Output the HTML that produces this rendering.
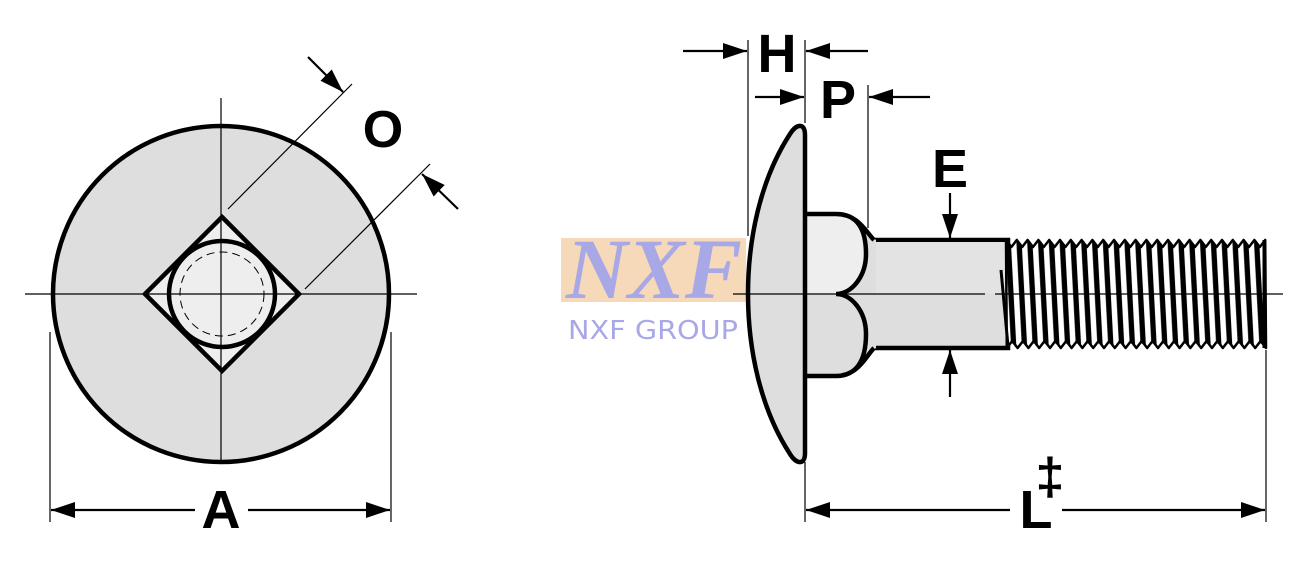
<!DOCTYPE html>
<html><head><meta charset="utf-8"><style>html,body{margin:0;padding:0;background:#fff}svg{display:block}</style></head>
<body>
<svg width="1307" height="582" viewBox="0 0 1307 582" xmlns="http://www.w3.org/2000/svg" font-family="Liberation Sans, sans-serif" font-weight="bold">
<defs>
<pattern id="thr" width="10.8" height="200" patternUnits="userSpaceOnUse" x="1006" y="0" patternTransform="skewX(3)">
<rect x="0" y="0" width="10.8" height="200" fill="#000"/>
<rect x="3" y="0" width="5.5" height="200" fill="#fff"/>
</pattern>
<marker id="ah" viewBox="0 0 24 16" refX="24" refY="8" markerWidth="24" markerHeight="16" markerUnits="userSpaceOnUse" orient="auto"><path d="M0,0 L24,8 L0,16 z"/></marker>
</defs>

<circle cx="221" cy="294" r="168" fill="#dedede" stroke="#000" stroke-width="4.5"/>
<polygon points="222,217 299,294 222,371 145,294" fill="#eeeeee" stroke="#000" stroke-width="4.5"/>
<circle cx="222" cy="294" r="53" fill="#eeeeee" stroke="#000" stroke-width="4.5"/>
<circle cx="222" cy="294" r="42" fill="none" stroke="#000" stroke-width="1" stroke-dasharray="8,5"/>
<line x1="25" y1="294" x2="417" y2="294" stroke="#000" stroke-width="1.2"/>
<line x1="221" y1="98" x2="221" y2="462" stroke="#000" stroke-width="1.2"/>
<line x1="228" y1="209" x2="352" y2="84" stroke="#000" stroke-width="1.2"/>
<line x1="305" y1="289" x2="430" y2="164" stroke="#000" stroke-width="1.2"/>
<line x1="308" y1="57" x2="343" y2="92" stroke="#000" stroke-width="2.2" marker-end="url(#ah)"/>
<line x1="458" y1="209" x2="422" y2="174" stroke="#000" stroke-width="2.2" marker-end="url(#ah)"/>
<text x="383" y="147" font-size="52" text-anchor="middle">O</text>
<line x1="50" y1="332" x2="50" y2="522" stroke="#000" stroke-width="1.2"/>
<line x1="391" y1="332" x2="391" y2="522" stroke="#000" stroke-width="1.2"/>
<line x1="195" y1="510" x2="51" y2="510" stroke="#000" stroke-width="2.2" marker-end="url(#ah)"/>
<line x1="248" y1="510" x2="390" y2="510" stroke="#000" stroke-width="2.2" marker-end="url(#ah)"/>
<text x="221" y="528" font-size="54" text-anchor="middle">A</text>

<rect x="561" y="238" width="185" height="64" fill="#f6d9b8"/>
<text x="566" y="298" font-family="Liberation Serif, serif" font-style="italic" font-weight="bold" font-size="86" fill="#a8a8e6" textLength="176" lengthAdjust="spacingAndGlyphs">NXF</text>
<text x="568" y="339" font-family="DejaVu Sans, sans-serif" font-weight="normal" font-size="26" fill="#a8a8e6" textLength="170" lengthAdjust="spacingAndGlyphs">NXF GROUP</text>

<rect x="860" y="240" width="148" height="108" fill="#dedede" stroke="#000" stroke-width="4.5"/>
<rect x="862" y="242" width="144" height="52" fill="#e3e3e3"/>
<path d="M805,214 L836,214 C858,214 866,232 876,240 L876,348 C866,356 858,376 836,376 L805,376 Z" fill="#dedede" stroke="none"/>
<path d="M805,214 L836,214 C858,214 866,230 866,254 C866,276 852,294 836,294 L805,294 Z" fill="#eeeeee"/>
<path d="M805,214 L836,214 C858,214 866,232 874,240 M836,294 C852,294 866,276 866,254 C866,230 858,214 836,214 M836,294 C852,294 866,312 866,334 C866,358 858,376 836,376 L805,376 M874,348 C866,356 858,376 836,376" fill="none" stroke="#000" stroke-width="4.5"/>
<path d="M805,135 C805,122 796,124 790,134 C760,180 748,240 748,294 C748,348 760,408 790,454 C796,464 805,466 805,453 Z" fill="#dedede" stroke="#000" stroke-width="4.5" stroke-linejoin="round"/>
<path d="M1006,240 l5.4,7 l5.4,-7 l5.4,7 l5.4,-7 l5.4,7 l5.4,-7 l5.4,7 l5.4,-7 l5.4,7 l5.4,-7 l5.4,7 l5.4,-7 l5.4,7 l5.4,-7 l5.4,7 l5.4,-7 l5.4,7 l5.4,-7 l5.4,7 l5.4,-7 l5.4,7 l5.4,-7 l5.4,7 l5.4,-7 l5.4,7 l5.4,-7 l5.4,7 l5.4,-7 l5.4,7 l5.4,-7 l5.4,7 l5.4,-7 l5.4,7 l5.4,-7 l5.4,7 l5.4,-7 l5.4,7 l5.4,-7 l5.4,7 l5.4,-7 l5.4,7 l5.4,-7 l5.4,7 l5.4,-7 l5.4,7 l5.4,-7 l5.4,7 l5.4,-7 L1266,348 l-5.4,-7 l-5.4,7 l-5.4,-7 l-5.4,7 l-5.4,-7 l-5.4,7 l-5.4,-7 l-5.4,7 l-5.4,-7 l-5.4,7 l-5.4,-7 l-5.4,7 l-5.4,-7 l-5.4,7 l-5.4,-7 l-5.4,7 l-5.4,-7 l-5.4,7 l-5.4,-7 l-5.4,7 l-5.4,-7 l-5.4,7 l-5.4,-7 l-5.4,7 l-5.4,-7 l-5.4,7 l-5.4,-7 l-5.4,7 l-5.4,-7 l-5.4,7 l-5.4,-7 l-5.4,7 l-5.4,-7 l-5.4,7 l-5.4,-7 l-5.4,7 l-5.4,-7 l-5.4,7 l-5.4,-7 l-5.4,7 l-5.4,-7 l-5.4,7 l-5.4,-7 l-5.4,7 l-5.4,-7 l-5.4,7 l-5.4,-7 l-5.4,7 Z" fill="url(#thr)" stroke="#000" stroke-width="2.5" stroke-linejoin="round"/>
<line x1="1001" y1="270" x2="1008" y2="346" stroke="#000" stroke-width="3"/>
<line x1="1264" y1="240" x2="1264" y2="348" stroke="#000" stroke-width="3"/>
<line x1="733" y1="294" x2="985" y2="294" stroke="#000" stroke-width="1.2"/>
<line x1="995" y1="294" x2="1283" y2="294" stroke="#000" stroke-width="1.2"/>

<line x1="748" y1="40" x2="748" y2="236" stroke="#000" stroke-width="1.2"/>
<line x1="805" y1="40" x2="805" y2="123" stroke="#000" stroke-width="1.2"/>
<line x1="868" y1="85" x2="868" y2="228" stroke="#000" stroke-width="1.2"/>
<line x1="683" y1="51" x2="747" y2="51" stroke="#000" stroke-width="2.2" marker-end="url(#ah)"/>
<line x1="868" y1="51" x2="806" y2="51" stroke="#000" stroke-width="2.2" marker-end="url(#ah)"/>
<text x="777" y="72" font-size="54" text-anchor="middle">H</text>
<line x1="755" y1="97" x2="804" y2="97" stroke="#000" stroke-width="2.2" marker-end="url(#ah)"/>
<line x1="930" y1="97" x2="869" y2="97" stroke="#000" stroke-width="2.2" marker-end="url(#ah)"/>
<text x="838" y="118" font-size="54" text-anchor="middle">P</text>
<text x="950" y="187" font-size="54" text-anchor="middle">E</text>
<line x1="950" y1="193" x2="950" y2="238" stroke="#000" stroke-width="2.2" marker-end="url(#ah)"/>
<line x1="950" y1="397" x2="950" y2="350" stroke="#000" stroke-width="2.2" marker-end="url(#ah)"/>
<line x1="805" y1="462" x2="805" y2="522" stroke="#000" stroke-width="1.2"/>
<line x1="1266" y1="350" x2="1266" y2="522" stroke="#000" stroke-width="1.2"/>
<line x1="1010" y1="510" x2="806" y2="510" stroke="#000" stroke-width="2.2" marker-end="url(#ah)"/>
<line x1="1062" y1="510" x2="1265" y2="510" stroke="#000" stroke-width="2.2" marker-end="url(#ah)"/>
<text x="1036" y="528" font-size="54" text-anchor="middle">L</text>
<text x="1050" y="494" font-size="52" text-anchor="middle">‡</text>
</svg>
</body></html>
